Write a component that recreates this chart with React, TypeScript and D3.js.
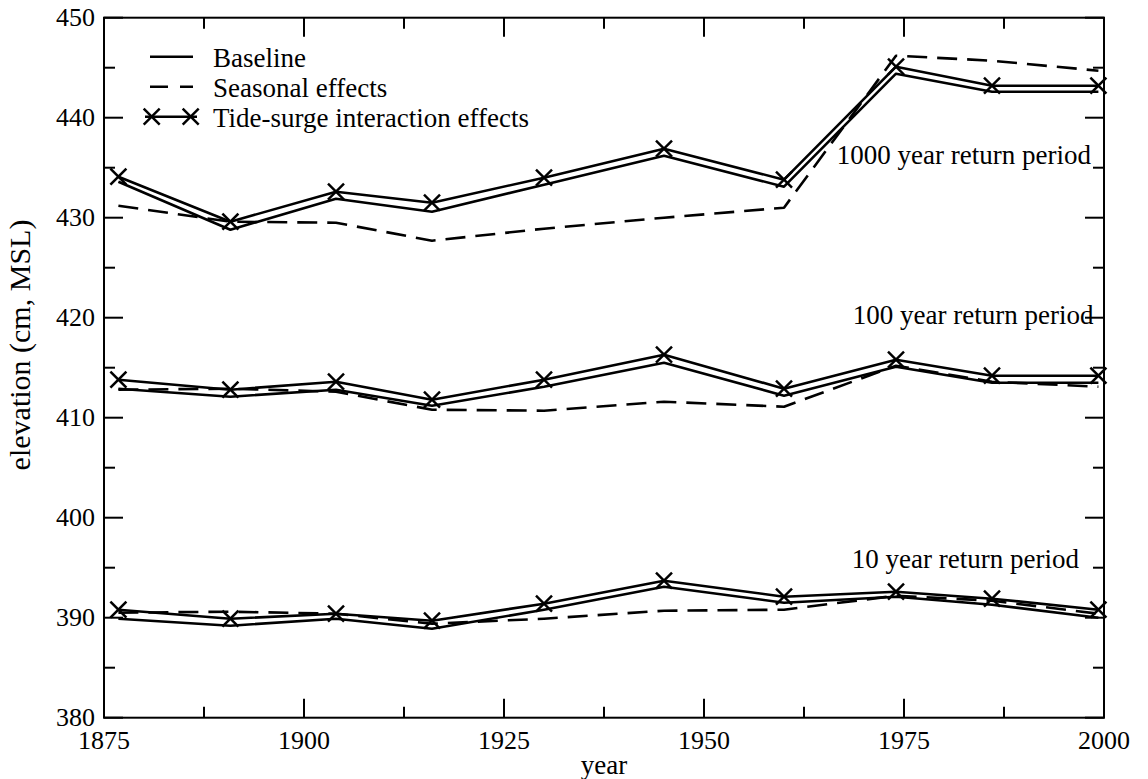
import React from "react";
import * as d3 from "d3";

// ---- data ----
const YEARS = [1876.8, 1890.8, 1904, 1916, 1930, 1945, 1960, 1974, 1986, 1999.3];

const TIDE_1000 = [434.1, 429.6, 432.6, 431.5, 434.0, 436.9, 433.8, 445.1, 443.2, 443.2];
const BASE_1000 = [433.6, 428.8, 431.9, 430.6, 433.3, 436.2, 433.1, 444.4, 442.6, 442.6];
const SEAS_1000 = [431.2, 429.6, 429.5, 427.7, 428.9, 430.0, 431.0, 446.2, 445.7, 444.7];

const TIDE_100 = [413.8, 412.8, 413.6, 411.8, 413.8, 416.3, 412.9, 415.8, 414.2, 414.2];
const BASE_100 = [412.9, 412.1, 412.8, 411.2, 413.1, 415.5, 412.2, 415.1, 413.5, 413.5];
const SEAS_100 = [412.8, 412.9, 412.6, 410.8, 410.7, 411.6, 411.1, 415.2, 413.6, 413.1];

const TIDE_10 = [390.8, 389.9, 390.4, 389.7, 391.4, 393.7, 392.1, 392.6, 391.9, 390.8];
const BASE_10 = [389.9, 389.2, 389.9, 388.9, 390.8, 393.1, 391.5, 392.1, 391.3, 390.0];
const SEAS_10 = [390.5, 390.6, 390.4, 389.4, 389.9, 390.7, 390.8, 392.2, 391.7, 390.4];

const X_TICKS = [1875, 1900, 1925, 1950, 1975, 2000];
const Y_TICKS = [380, 390, 400, 410, 420, 430, 440, 450];

const LEGEND = ["Baseline", "Seasonal effects", "Tide-surge interaction effects"];
const PERIOD_LABELS = [
  { text: "1000 year return period", value: 435.4, xEnd: 1999 },
  { text: "100 year return period", value: 419.4, xEnd: 1999.3 },
  { text: "10 year return period", value: 395.0, xEnd: 1997.5 },
];

const FONT = "Liberation Serif, Times New Roman, Times, serif";

const X0 = 104, X1 = 1104, Y0 = 17.7, Y1 = 717.7;

function Cross({ cx, cy, s = 8 }: { cx: number; cy: number; s?: number }) {
  return (
    <g stroke="#000" strokeWidth={2.5}>
      <line x1={cx - s} y1={cy - s} x2={cx + s} y2={cy + s} />
      <line x1={cx - s} y1={cy + s} x2={cx + s} y2={cy - s} />
    </g>
  );
}

const txt = { fontFamily: FONT };

export default function App() {
  const x = d3.scaleLinear().domain([1875, 2000]).range([X0, X1]);
  const y = d3.scaleLinear().domain([380, 450]).range([Y1, Y0]);
  const line = d3
    .line<number>()
    .x((_, i) => x(YEARS[i]))
    .y((d) => y(d));

  const minorX = d3.range(1887.5, 2000, 25);
  const minorY = d3.range(385, 450, 10);
  const MAJ = 19, MIN = 11;

  const groups = [
    [TIDE_1000, BASE_1000, SEAS_1000],
    [TIDE_100, BASE_100, SEAS_100],
    [TIDE_10, BASE_10, SEAS_10],
  ];

  return (
    <>
      <style>{`body{margin:0} svg text{font-family:"Liberation Serif","Times New Roman",Times,serif}`}</style>
      <svg width={1148} height={779} style={{ display: "block", background: "#fff" }}>
        {/* data */}
        {groups.map(([tide, base, seas], gi) => (
          <g key={gi} fill="none" stroke="#000" strokeWidth={2.6} strokeLinejoin="round">
            <path d={line(seas) || ""} strokeDasharray="20,10" />
            <path d={line(base) || ""} />
            <path d={line(tide) || ""} />
            {tide.map((v, i) => (
              <Cross key={i} cx={x(YEARS[i])} cy={y(v)} />
            ))}
          </g>
        ))}

        {/* frame */}
        <rect x={X0} y={Y0} width={X1 - X0} height={Y1 - Y0} fill="none" stroke="#000" strokeWidth={2} />

        {/* x ticks (bottom & top, inward) */}
        {X_TICKS.map((t) => (
          <g key={"xt" + t} stroke="#000" strokeWidth={2}>
            <line x1={x(t)} x2={x(t)} y1={Y1} y2={Y1 - MAJ} />
            <line x1={x(t)} x2={x(t)} y1={Y0} y2={Y0 + MAJ} />
          </g>
        ))}
        {minorX.map((t) => (
          <g key={"xm" + t} stroke="#000" strokeWidth={2}>
            <line x1={x(t)} x2={x(t)} y1={Y1} y2={Y1 - MIN} />
            <line x1={x(t)} x2={x(t)} y1={Y0} y2={Y0 + MIN} />
          </g>
        ))}
        {/* y ticks (left & right, inward) */}
        {Y_TICKS.map((t) => (
          <g key={"yt" + t} stroke="#000" strokeWidth={2}>
            <line x1={X0} x2={X0 + MAJ} y1={y(t)} y2={y(t)} />
            <line x1={X1} x2={X1 - MAJ} y1={y(t)} y2={y(t)} />
          </g>
        ))}
        {minorY.map((t) => (
          <g key={"ym" + t} stroke="#000" strokeWidth={2}>
            <line x1={X0} x2={X0 + MIN} y1={y(t)} y2={y(t)} />
            <line x1={X1} x2={X1 - MIN} y1={y(t)} y2={y(t)} />
          </g>
        ))}

        {/* tick labels */}
        {X_TICKS.map((t) => (
          <text key={"xl" + t} style={txt} x={x(t)} y={749} fontSize={26} textAnchor="middle" fill="#000">
            {t}
          </text>
        ))}
        {Y_TICKS.map((t) => (
          <text key={"yl" + t} style={txt} x={95} y={y(t) + 8} fontSize={26} textAnchor="end" fill="#000">
            {t}
          </text>
        ))}

        {/* axis titles */}
        <text style={txt} x={(X0 + X1) / 2} y={774} fontSize={27} textAnchor="middle" fill="#000">
          year
        </text>
        <text
          style={txt}
          transform={`translate(30,345) rotate(-90)`}
          fontSize={30}
          textAnchor="middle"
          fill="#000"
        >
          elevation (cm, MSL)
        </text>

        {/* period labels */}
        {PERIOD_LABELS.map((p) => (
          <text key={p.text} style={txt} x={x(p.xEnd) - 5} y={y(p.value)} fontSize={27} textAnchor="end" fill="#000">
            {p.text}
          </text>
        ))}

        {/* legend */}
        <g>
          <line x1={150} x2={193} y1={56.7} y2={56.7} stroke="#000" strokeWidth={2.6} />
          <line x1={150} x2={193} y1={86.7} y2={86.7} stroke="#000" strokeWidth={2.6} strokeDasharray="18,12" />
          <line x1={145} x2={197} y1={116.7} y2={116.7} stroke="#000" strokeWidth={2.6} />
          <Cross cx={151.7} cy={116.7} />
          <Cross cx={190.7} cy={116.7} />
          {LEGEND.map((l, i) => (
            <text key={l} style={txt} x={213} y={56.7 + i * 30 + 10} fontSize={27} fill="#000">
              {l}
            </text>
          ))}
        </g>
      </svg>
    </>
  );
}
